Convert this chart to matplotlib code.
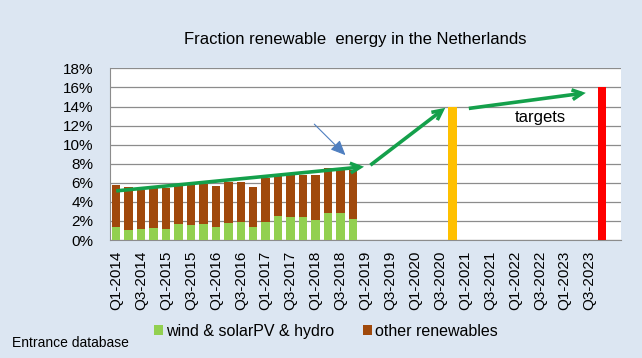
import matplotlib
matplotlib.use("Agg")
import matplotlib.pyplot as plt
import numpy as np

quarters = [f"Q{q}-{y}" for y in range(2014, 2024) for q in range(1, 5)]
wind_solar_hydro = [1.36, 1.08, 1.19, 1.29, 1.19, 1.64, 1.61, 1.64, 1.40, 1.82,
                    1.92, 1.40, 1.92, 2.55, 2.45, 2.45, 2.06, 2.87, 2.87, 2.24]
total_renewable = [5.77, 5.56, 5.24, 5.66, 5.49, 5.77, 5.77, 5.84, 5.66, 6.12,
                   6.12, 5.56, 6.47, 6.89, 6.82, 6.82, 6.82, 7.55, 7.34, 7.34]
other_renewables = [t - w for t, w in zip(total_renewable, wind_solar_hydro)]
target_2020 = ("Q4-2020", 14.0)
target_2023 = ("Q4-2023", 16.0)
yticks = list(range(0, 19, 2))

font = ["Liberation Sans", "DejaVu Sans"]
plt.rcParams["font.family"] = font

bg = "#DCE6F2"
fig = plt.figure(figsize=(6.42, 3.58), dpi=100, facecolor=bg)
ax = fig.add_axes([0.1713, 0.3296, 0.7957, 0.4794])
ax.set_facecolor("white")

x = np.arange(len(wind_solar_hydro))
w = 0.68
ax.bar(x, wind_solar_hydro, width=w, color="#92D050", zorder=3,
       label="wind & solarPV & hydro")
ax.bar(x, other_renewables, width=w, bottom=wind_solar_hydro, color="#A0490C",
       zorder=3, label="other renewables")
ax.bar(quarters.index(target_2020[0]), target_2020[1], width=w, color="#FFC000", zorder=3)
ax.bar(quarters.index(target_2023[0]), target_2023[1], width=w, color="#FF0000", zorder=3)

ax.set_xlim(-0.5, 40.5)
ax.set_ylim(0, 18)
ax.set_yticks(yticks)
ax.set_yticklabels([f"{v}%" for v in yticks], fontsize=11)
ax.set_xticks(range(0, 40, 2))
ax.set_xticklabels(quarters[0:40:2], rotation=90, fontsize=11)
ax.tick_params(axis="both", length=0)
ax.tick_params(axis="y", pad=12)
ax.tick_params(axis="x", pad=8)
ax.yaxis.grid(True, color="#8C8C8C", linewidth=0.9, zorder=0)
for s in ["top", "right"]:
    ax.spines[s].set_visible(False)
ax.spines["left"].set_color("#8C8C8C")
ax.spines["bottom"].set_color("#8C8C8C")

green = "#14A04B"
arrows = [((0.0, 5.15), (20.0, 7.7)),
          ((20.4, 7.85), (26.5, 13.95)),
          ((28.3, 13.8), (37.8, 15.45))]
for (x0, y0), (x1, y1) in arrows:
    ax.annotate("", xy=(x1, y1), xytext=(x0, y0),
                arrowprops=dict(arrowstyle="->,head_length=0.7,head_width=0.35",
                                color=green, lw=2.6, shrinkA=0, shrinkB=1,
                                joinstyle="miter", capstyle="butt"),
                zorder=5)
ax.annotate("", xy=(18.4, 8.9), xytext=(15.9, 12.15),
            arrowprops=dict(arrowstyle="-|>,head_length=0.9,head_width=0.4",
                            color="#4F7FC0", lw=0.8, shrinkA=0, shrinkB=0),
            zorder=5)
ax.text(34.0, 12.8, "targets", fontsize=12, ha="center", va="center", zorder=6)

fig.text(0.553, 0.891, "Fraction renewable  energy in the Netherlands",
         fontsize=12, ha="center", va="center")
fig.text(0.018, 0.042, "Entrance database", fontsize=10, ha="left", va="center")

leg = fig.legend(loc="center", bbox_to_anchor=(0.507, 0.075), ncol=2, frameon=False,
                 fontsize=11.5, handlelength=0.6, handleheight=0.6, handletextpad=0.15,
                 columnspacing=1.8)

fig.savefig("out.png", dpi=100, facecolor=bg)
